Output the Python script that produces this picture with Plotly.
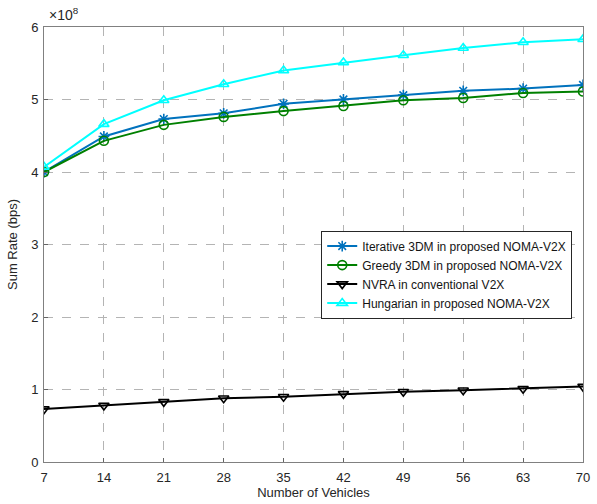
import plotly.graph_objects as go

vehicles = [7, 14, 21, 28, 35, 42, 49, 56, 63, 70]
iterative_3dm = [4.00, 4.49, 4.73, 4.81, 4.94, 5.00, 5.06, 5.12, 5.15, 5.20]
greedy_3dm = [4.00, 4.43, 4.65, 4.76, 4.84, 4.91, 4.99, 5.02, 5.09, 5.11]
nvra = [0.73, 0.78, 0.83, 0.88, 0.90, 0.94, 0.97, 0.99, 1.01, 1.04]
hungarian = [4.07, 4.66, 4.99, 5.21, 5.40, 5.51, 5.61, 5.71, 5.79, 5.83]
scale = 1e8

series = [
    ("Iterative 3DM in proposed NOMA-V2X", iterative_3dm, "rgb(0,114,189)", "asterisk-open"),
    ("Greedy 3DM in proposed NOMA-V2X", greedy_3dm, "rgb(0,128,0)", "circle-open"),
    ("NVRA in conventional V2X", nvra, "rgb(0,0,0)", "triangle-down-open"),
    ("Hungarian in proposed NOMA-V2X", hungarian, "rgb(0,255,255)", "triangle-up-open"),
]

fig = go.Figure()
for name, vals, color, sym in series:
    fig.add_trace(go.Scatter(
        x=vehicles, y=[v * scale for v in vals], name=name, mode="lines+markers",
        line=dict(color=color, width=2),
        marker=dict(symbol=sym, size=9, color=color, line=dict(color=color, width=1.6)),
    ))

axis_common = dict(
    showline=True, linecolor="rgb(128,128,128)", linewidth=1, mirror=True,
    showgrid=True, gridcolor="rgb(180,180,180)", griddash="dash", gridwidth=1,
    ticks="inside", ticklen=4, tickcolor="rgb(100,100,100)",
    tickfont=dict(family="Liberation Sans, Arial", size=13, color="rgb(38,38,38)"),
    zeroline=False, ticklabeloverflow="allow",
)

fig.update_layout(
    width=597, height=504,
    margin=dict(l=44, r=7, t=27, b=41),
    plot_bgcolor="white", paper_bgcolor="white",
    font=dict(family="Liberation Sans, Arial", size=13, color="rgb(38,38,38)"),
    xaxis=dict(range=[7, 70], tickvals=vehicles, ticktext=[str(v) for v in vehicles],
               ticklabelstandoff=3,
               title=dict(text="Number of Vehicles", standoff=3,
                          font=dict(size=13, color="rgb(38,38,38)")),
               **axis_common),
    yaxis=dict(range=[0, 6e8], tickvals=[i * scale for i in range(7)],
               ticktext=[str(i) for i in range(7)], ticklabelstandoff=2,
               title=dict(text="Sum Rate (bps)", standoff=10,
                          font=dict(size=13, color="rgb(38,38,38)")),
               **axis_common),
    legend=dict(x=0.980, y=0.532, xanchor="right", yanchor="top",
                bgcolor="white", bordercolor="rgb(38,38,38)", borderwidth=1,
                font=dict(size=12, color="rgb(20,20,20)"),
                itemwidth=30, tracegroupgap=0),
    annotations=[dict(text="×10<sup>8</sup>", xref="paper", yref="paper",
                      x=0.005, y=1.005, xanchor="left", yanchor="bottom", showarrow=False,
                      font=dict(size=14, color="rgb(38,38,38)"))],
)

fig.write_html("out.html")
